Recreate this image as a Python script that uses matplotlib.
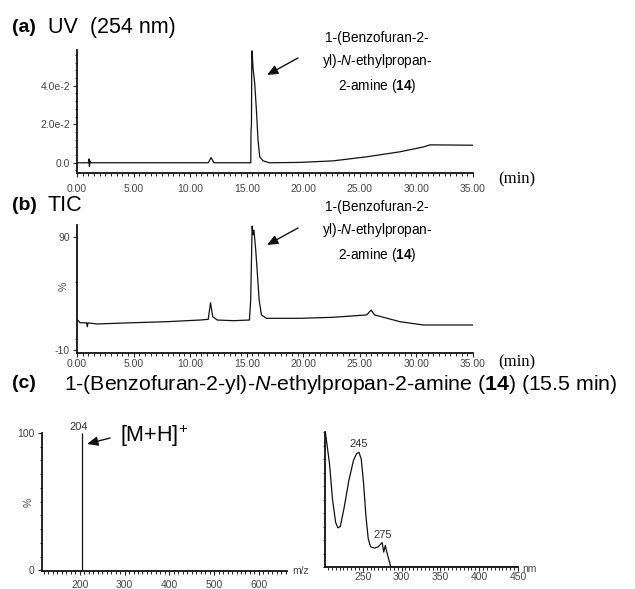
import matplotlib
matplotlib.use('Agg')
import matplotlib.pyplot as plt
from matplotlib.ticker import MultipleLocator, FixedLocator

plt.rcParams['font.family'] = ['Liberation Sans', 'DejaVu Sans']
plt.rcParams['mathtext.fontset'] = 'custom'
plt.rcParams['mathtext.rm'] = 'Liberation Sans'
plt.rcParams['mathtext.it'] = 'Liberation Sans:italic'
plt.rcParams['mathtext.bf'] = 'Liberation Sans:bold'

# UV 254 nm chromatogram (min, AU)
uv_t = [0, 1.0, 1.05, 1.1, 1.15, 1.2, 11.6, 11.85, 12.1, 15.36, 15.38, 15.42,
        15.45, 15.48, 15.56, 15.71, 15.86, 16.0, 16.15, 16.45, 17.0, 19.7,
        22.65, 25.6, 28.55, 30.6, 31.2, 35]
uv_v = [0, 0, 0.002, -0.002, 0.001, 0, 0, 0.0027, 0, 0, 0.016, 0.02,
        0.058, 0.058, 0.049, 0.041, 0.027, 0.0117, 0.003, 0.001, 0.0, 0.0002,
        0.001, 0.0031, 0.0057, 0.0082, 0.0093, 0.0091]

# total ion current (min, %)
tic_t = [0, 0.27, 0.85, 0.91, 0.97, 1.75, 5.0, 7.9, 10.9, 11.6, 11.8, 12.0,
         12.4, 13.8, 15.24, 15.35, 15.48, 15.56, 15.64, 15.8, 15.94, 16.1,
         16.3, 16.75, 19.7, 22.65, 25.6, 26.0, 26.3, 28.55, 30.6, 35]
tic_v = [17.1, 14.1, 14, 10.6, 14, 13, 14.1, 15, 16.5, 17.1, 31.8, 19.4,
         16.5, 15.9, 16.5, 34, 99.7, 92, 96, 78, 57.7, 34,
         21, 18, 18, 18.9, 21, 25.3, 21, 15, 12.1, 12.1]

# mass spectrum at 15.5 min
ms_mz = [204]
ms_int = [100]

# UV spectrum at 15.5 min (nm, relative)
sp_nm = [202, 207, 211, 215, 218, 221, 226, 232, 238, 242, 245, 248, 251,
         254, 257, 260, 265, 270, 273, 275, 277, 279, 281, 286, 450]
sp_v = [0.99, 0.77, 0.50, 0.33, 0.29, 0.30, 0.44, 0.64, 0.79, 0.84, 0.85,
        0.80, 0.62, 0.38, 0.21, 0.15, 0.14, 0.15, 0.17, 0.18, 0.11, 0.16,
        0.11, 0.0, 0.0]

W, H = 635, 589
fig = plt.figure(figsize=(W / 100, H / 100), dpi=100)


def box(l, t, r, b):
    return [l / W, 1 - b / H, (r - l) / W, (b - t) / H]


def style(ax, xpad):
    for s in ['top', 'right']:
        ax.spines[s].set_visible(False)
    for s in ['left', 'bottom']:
        ax.spines[s].set_linewidth(1.3)
        ax.spines[s].set_color('#111111')
    ax.tick_params(which='major', direction='out', length=3, width=0.8,
                   labelsize=7.5, labelcolor='#444444', color='#222222')
    ax.tick_params(which='minor', direction='out', length=1.8, width=0.7,
                   color='#222222')
    ax.tick_params(axis='x', pad=xpad)
    ax.tick_params(axis='y', pad=2)


def ftext(x, y, s, **kw):
    fig.text(x / W, 1 - y / H, s, **kw)


def arrow(x0, y0, x1, y1):
    fig.add_artist(matplotlib.patches.FancyArrowPatch(
        (x0 / W, 1 - y0 / H), (x1 / W, 1 - y1 / H), transform=fig.transFigure,
        arrowstyle='-|>,head_length=6.5,head_width=2.8', color='#111111',
        lw=1.0, shrinkA=0, shrinkB=0))


name = '1-(Benzofuran-2-\nyl)-$\\mathit{N}$-ethylpropan-\n2-amine ($\\mathbf{14}$)'
min_fmt = ['%.2f' % v for v in range(0, 40, 5)]

# (a) UV trace
ax = fig.add_axes(box(77, 50, 473, 173))
ax.plot(uv_t, uv_v, color='#111111', lw=0.9)
ax.set_xlim(0, 35)
ax.set_ylim(-0.0053, 0.0585)
ax.set_xticks(range(0, 40, 5))
ax.set_xticklabels(min_fmt)
ax.xaxis.set_minor_locator(MultipleLocator(0.5))
ax.set_yticks([0, 0.02, 0.04])
ax.set_yticklabels(['0.0', '2.0e-2', '4.0e-2'])
ax.yaxis.set_minor_locator(MultipleLocator(0.004))
style(ax, 5)

ftext(12, 27, '(a)', fontsize=14, fontweight='bold', va='center')
ftext(48, 27, 'UV  (254 nm)', fontsize=15.5, va='center')
ftext(377, 63, name, fontsize=9.8, ha='center', va='center',
      multialignment='center', linespacing=1.55)
arrow(298, 58, 267, 75)
ftext(498, 179, '(min)', fontsize=12, family='Liberation Serif', va='center')

# (b) TIC trace
ax = fig.add_axes(box(77, 225, 473, 353))
ax.plot(tic_t, tic_v, color='#111111', lw=0.9)
ax.set_xlim(0, 35)
ax.set_ylim(-12.7, 100.6)
ax.set_xticks(range(0, 40, 5))
ax.set_xticklabels(min_fmt)
ax.xaxis.set_minor_locator(MultipleLocator(0.5))
ax.set_yticks([-10, 90])
ax.set_yticklabels(['-10', '90'])
ax.yaxis.set_minor_locator(FixedLocator([0, 50]))
style(ax, 1.5)
ax.text(-0.035, 0.52, '%', transform=ax.transAxes, fontsize=7.5,
        color='#444444', rotation=90, ha='center', va='center')

ftext(12, 205, '(b)', fontsize=14, fontweight='bold', va='center')
ftext(48, 205, 'TIC', fontsize=15.5, va='center')
ftext(377, 232, name, fontsize=9.8, ha='center', va='center',
      multialignment='center', linespacing=1.55)
arrow(298, 228, 267, 245)
ftext(498, 362, '(min)', fontsize=12, family='Liberation Serif', va='center')

# (c) spectra at the peak
ftext(12, 384, '(c)', fontsize=14, fontweight='bold', va='center')
ftext(64, 384, '1-(Benzofuran-2-yl)-$\\mathit{N}$-ethylpropan-2-amine '
      '($\\mathbf{14}$) (15.5 min)', fontsize=15.3, va='center')

ax = fig.add_axes(box(41.7, 433, 286.7, 571))
ax.vlines(ms_mz, 0, ms_int, color='#111111', lw=0.9)
for mz, inten in zip(ms_mz, ms_int):
    ax.annotate(str(mz), (mz, inten), xytext=(-2, 1), textcoords='offset points',
                ha='center', va='bottom', fontsize=8, color='#333333')
ax.set_xlim(115, 662)
ax.set_ylim(-0.5, 100)
ax.set_xticks(range(200, 700, 100))
ax.xaxis.set_minor_locator(MultipleLocator(10))
ax.set_yticks([0, 100])
ax.yaxis.set_minor_locator(MultipleLocator(10))
style(ax, 3.5)
ax.text(-0.055, 0.5, '%', transform=ax.transAxes, fontsize=7.5,
        color='#444444', rotation=90, ha='center', va='center')
ftext(292, 571, 'm/z', fontsize=7.5, color='#444444', va='center')
ftext(120, 436, '[M+H]$^{+}$', fontsize=15.5, va='center')
arrow(110, 438, 87, 444)

ax = fig.add_axes(box(325, 432, 518, 567))
ax.plot(sp_nm, sp_v, color='#111111', lw=0.9)
for lam, val in [(245, 0.85), (275, 0.18)]:
    ax.annotate(str(lam), (lam, val), xytext=(0, 2), textcoords='offset points',
                ha='center', va='bottom', fontsize=8, color='#333333')
ax.set_xlim(201.3, 450)
ax.set_ylim(0, 1)
ax.set_xticks(range(250, 500, 50))
ax.xaxis.set_minor_locator(MultipleLocator(5))
ax.set_yticks([])
ax.yaxis.set_minor_locator(MultipleLocator(0.1))
style(ax, 0.5)
ftext(522, 569, 'nm', fontsize=7.5, color='#444444', va='center')

fig.savefig('out.png', dpi=100)
